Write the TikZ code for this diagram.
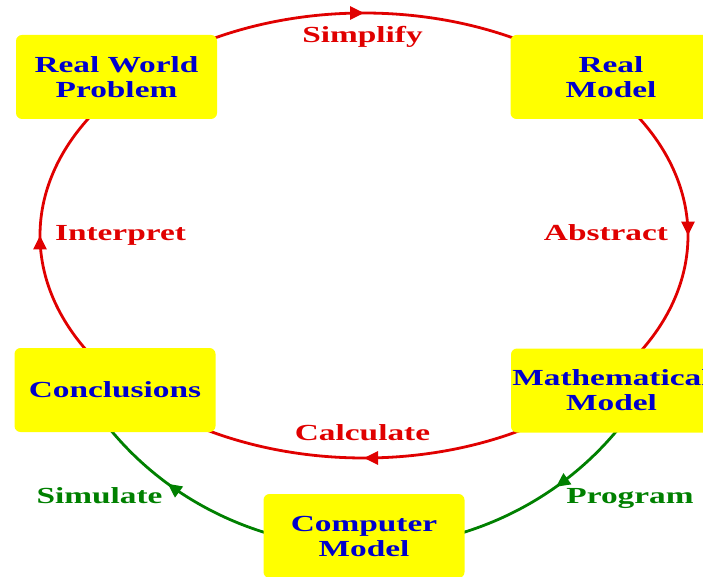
\documentclass[tikz,border=0pt]{standalone}
\usepackage{fontspec}
\setmainfont{Liberation Serif}[FakeStretch=1.45]
\usetikzlibrary{arrows.meta,decorations.markings,calc}
\definecolor{boxyellow}{RGB}{255,255,0}
\definecolor{textblue}{RGB}{0,0,204}
\definecolor{cycred}{RGB}{224,0,0}
\definecolor{cycgreen}{RGB}{0,128,0}
\pgfdeclarelayer{background}
\pgfsetlayers{background,main}
\begin{document}
\begin{tikzpicture}[x=1pt,y=1pt,
  box/.style={fill=boxyellow, rounded corners=6pt, minimum width=201pt, minimum height=84pt,
    inner sep=0pt, align=center, text=textblue, font=\fontsize{23}{25}\selectfont\bfseries},
  lbl/.style={anchor=base, inner sep=0pt, font=\fontsize{23}{25}\selectfont\bfseries},
  midarrow/.style={postaction={decorate}, decoration={markings,
    mark=at position 0.5 with {\arrow{Triangle[length=14pt,width=13pt]}}}},
  redarc/.style={color=cycred, line width=2.8pt, midarrow},
  greenarc/.style={color=cycgreen, line width=2.8pt, midarrow}]
\useasboundingbox (0,0) rectangle (703,576);
\clip (0,0) rectangle (703,576);
\coordinate (O) at (364,340.5);

\node[box] (rwp)  at (116.5,499) {Real World\\Problem};
\node[box] (rm)   at (611,499)   {Real\\Model};
\node[box] (conc) at (115,186)   {Conclusions};
\node[box] (math) at (611.5,185.5) {Mathematical\\Model};
\node[box] (comp) at (364,40)    {Computer\\Model};

\node[lbl, text=cycred] (simplify)  at (362.5,533.7) {Simplify};
\node[lbl, text=cycred] (abstract)  at (606,335)     {Abstract};
\node[lbl, text=cycred] (interpret) at (120.5,335)   {Interpret};
\node[lbl, text=cycred] (calculate) at (362.5,136)   {Calculate};
\node[lbl, text=cycgreen] (simulate) at (99.5,73)    {Simulate};
\node[lbl, text=cycgreen] (program)  at (630,73)     {Program};

\begin{pgfonlayer}{background}
% red cycle: Real World -> Real Model -> Mathematical Model -> Conclusions -> Real World
\draw[redarc] ($(O)+(120:324 and 222.5)$) arc[start angle=120, end angle=60, x radius=324, y radius=222.5];
\draw[redarc] ($(O)+(35:324 and 222.5)$) arc[start angle=35, end angle=-35, x radius=324, y radius=222.5];
\draw[redarc] ($(O)+(-60:324 and 222.5)$) arc[start angle=-60, end angle=-120, x radius=324, y radius=222.5];
\draw[redarc] ($(O)+(213:324 and 222.5)$) arc[start angle=213, end angle=147, x radius=324, y radius=222.5];
% green: Mathematical Model -> Computer Model -> Conclusions
\draw[greenarc] ($(O)+(-30:324 and 312)$) arc[start angle=-30, end angle=-77, x radius=324, y radius=312];
\draw[greenarc] ($(O)+(-100:324 and 312)$) arc[start angle=-100, end angle=-155, x radius=324, y radius=312];
\end{pgfonlayer}
\end{tikzpicture}
\end{document}
